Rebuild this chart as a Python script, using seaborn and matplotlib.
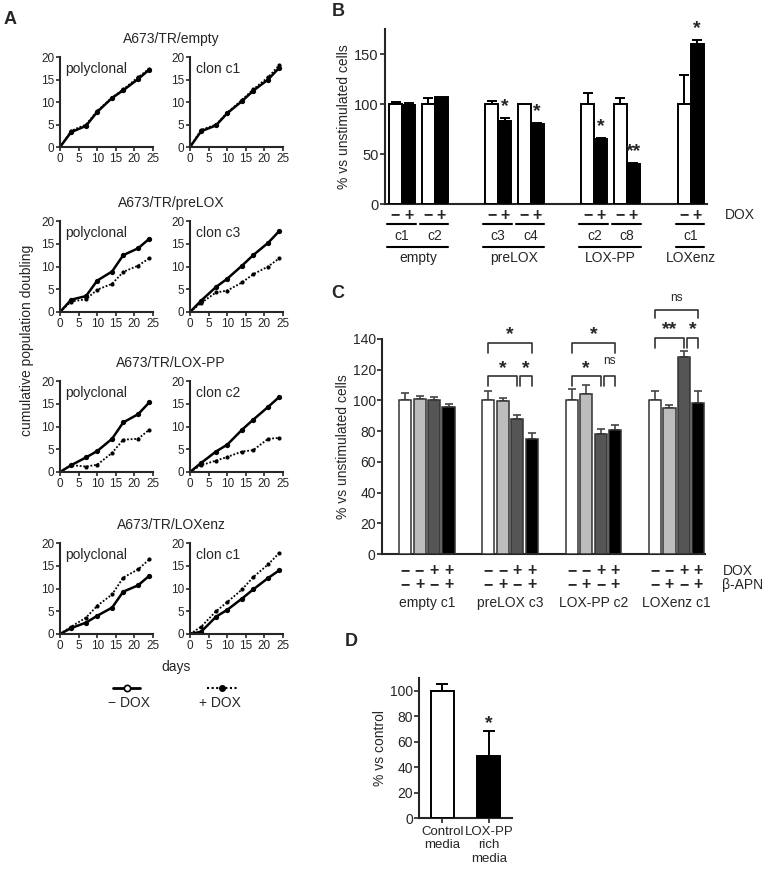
import numpy as np
import pandas as pd
import seaborn as sns
import matplotlib.pyplot as plt
from matplotlib.lines import Line2D

# ---------------- data ----------------
# Panel A: cumulative population doubling over days
days = [0, 3, 7, 10, 14, 17, 21, 24]
a_titles = ["A673/TR/empty", "A673/TR/preLOX", "A673/TR/LOX-PP", "A673/TR/LOXenz"]
a_clones = ["clon c1", "clon c3", "clon c2", "clon c1"]

empty_poly_minus = [0, 3.3, 4.7, 7.8, 10.9, 12.6, 15.1, 17.2]
empty_poly_plus = [0, 3.6, 5.0, 8.0, 11.0, 12.8, 15.5, 17.4]
empty_clon_minus = [0, 3.5, 4.8, 7.5, 10.2, 12.5, 15.0, 17.6]
empty_clon_plus = [0, 3.8, 5.0, 7.6, 10.5, 12.8, 15.5, 18.2]
prelox_poly_minus = [0, 2.7, 3.5, 6.9, 8.9, 12.5, 14.0, 16.1]
prelox_poly_plus = [0, 2.3, 2.8, 4.9, 6.2, 8.8, 10.2, 11.8]
prelox_clon_minus = [0, 2.5, 5.5, 7.3, 10.2, 12.5, 15.2, 17.8]
prelox_clon_plus = [0, 2.0, 4.3, 4.7, 6.5, 8.3, 10.0, 11.8]
loxpp_poly_minus = [0, 1.5, 3.2, 4.6, 7.3, 10.9, 12.7, 15.3]
loxpp_poly_plus = [0, 1.5, 1.2, 1.6, 4.2, 7.1, 7.3, 9.3]
loxpp_clon_minus = [0, 2.0, 4.5, 6.0, 9.3, 11.5, 14.3, 16.5]
loxpp_clon_plus = [0, 1.5, 2.5, 3.3, 4.5, 4.8, 7.3, 7.5]
loxenz_poly_minus = [0, 1.3, 2.5, 4.0, 5.8, 9.3, 10.7, 12.8]
loxenz_poly_plus = [0, 1.6, 3.6, 6.2, 8.7, 12.4, 14.2, 16.4]
loxenz_clon_minus = [0, 0.5, 3.8, 5.3, 7.8, 9.8, 12.3, 14.0]
loxenz_clon_plus = [0, 1.6, 5.0, 7.0, 9.8, 12.5, 15.3, 17.8]

# Panel B: % vs unstimulated cells per clone, -DOX / +DOX
b_groups = ["empty", "preLOX", "LOX-PP", "LOXenz"]
b_clones = [["c1", "c2"], ["c3", "c4"], ["c2", "c8"], ["c1"]]
b_minus = [100, 100, 100, 100, 100, 100, 100]
b_minus_err = [2, 6, 3, 0, 11, 6, 29]
b_plus = [99, 107, 83, 80, 65, 40, 160]
b_plus_err = [2, 0, 3, 1, 1, 1, 4]
b_stars = ["", "", "*", "*", "*", "**", "*"]

# Panel C: DOX / beta-APN combinations
c_groups = ["empty c1", "preLOX c3", "LOX-PP c2", "LOXenz c1"]
c_dox = ["−", "−", "+", "+"]
c_bapn = ["−", "+", "−", "+"]
c_vals = [[100, 101, 100, 95.5], [100, 99.5, 88, 75], [100, 104, 78, 81], [100, 95, 128.5, 98.5]]
c_errs = [[5, 2, 2, 2.5], [6, 2, 2.5, 4], [7.5, 6, 3.5, 3], [6, 2, 3.5, 7.5]]
# (group, bar from, bar to, label)
c_brackets = [(1, 0, 2, "*"), (1, 2, 3, "*"), (1, 0, 3, "*"),
              (2, 0, 2, "*"), (2, 2, 3, "ns"), (2, 0, 3, "*"),
              (3, 0, 2, "**"), (3, 2, 3, "*"), (3, 0, 3, "ns")]

# Panel D: conditioned media
d_labels = ["Control\nmedia", "LOX-PP\nrich\nmedia"]
d_vals = [100, 49]
d_errs = [5, 19]
d_stars = ["", "*"]

# ---------------- style ----------------
sns.set_style("ticks")
plt.rcParams['font.family'] = ['Liberation Sans', 'DejaVu Sans']
plt.rcParams['axes.linewidth'] = 1.5

W, H = 774, 873
fig = plt.figure(figsize=(W / 100, H / 100), dpi=100)


def box(x0, y0, x1, y1):
    return [x0 / W, 1 - y1 / H, (x1 - x0) / W, (y1 - y0) / H]


def fx(px):
    return px / W


def fy(py):
    return 1 - py / H


FS = 10

# ---------------- panel A ----------------
a_curves = [[(empty_poly_minus, empty_poly_plus), (empty_clon_minus, empty_clon_plus)],
            [(prelox_poly_minus, prelox_poly_plus), (prelox_clon_minus, prelox_clon_plus)],
            [(loxpp_poly_minus, loxpp_poly_plus), (loxpp_clon_minus, loxpp_clon_plus)],
            [(loxenz_poly_minus, loxenz_poly_plus), (loxenz_clon_minus, loxenz_clon_plus)]]
a_rows = [(57, 147), (221, 312), (381, 472), (543, 634)]
a_cols = [(60, 153), (190, 283)]

for r, (top, bot) in enumerate(a_rows):
    for c, (left, right) in enumerate(a_cols):
        ax = fig.add_axes(box(left, top, right, bot))
        minus, plus = a_curves[r][c]
        sns.lineplot(x=days, y=plus, color="black", lw=1.3, linestyle=(0, (1, 1)),
                     marker="o", markersize=3, markeredgewidth=0, ax=ax)
        sns.lineplot(x=days, y=minus, color="black", lw=1.8,
                     marker="o", markersize=3.8, markeredgewidth=0, ax=ax)
        ax.set_xlim(0, 25)
        ax.set_ylim(0, 20)
        ax.set_xticks([0, 5, 10, 15, 20, 25])
        ax.set_yticks([0, 5, 10, 15, 20])
        ax.tick_params(labelsize=8.5, length=3, width=1.2, pad=1)
        sns.despine(ax=ax)
        label = "polyclonal" if c == 0 else a_clones[r]
        ax.text(0.06, 0.87, label, transform=ax.transAxes, fontsize=FS, va="center")
    fig.text(fx(171), fy(top - 18), a_titles[r], ha="center", va="center", fontsize=FS)

fig.text(fx(27), fy(340), "cumulative population doubling", rotation=90,
         ha="center", va="center", fontsize=FS)
fig.text(fx(176), fy(667), "days", ha="center", va="center", fontsize=FS)

# legend of panel A
fig.add_artist(Line2D([fx(113), fx(140)], [fy(688)] * 2, color="black", lw=2))
fig.add_artist(Line2D([fx(127)], [fy(688)], marker="o", ms=4.5, mfc="white",
                      mec="black", mew=1.2, ls="none"))
fig.add_artist(Line2D([fx(207), fx(238)], [fy(688)] * 2, color="black", lw=1.5,
                      linestyle=(0, (1, 1.2))))
fig.add_artist(Line2D([fx(222)], [fy(688)], marker="o", ms=4, mfc="black",
                      mec="black", ls="none"))
fig.text(fx(129), fy(703), "− DOX", ha="center", va="center", fontsize=FS)
fig.text(fx(220), fy(703), "+ DOX", ha="center", va="center", fontsize=FS)

# ---------------- panel B ----------------
ax_b = fig.add_axes(box(385, 29, 707, 204))
b_pos = []
b_grp_idx = []
b_clone_lab = []
for g, clones in enumerate(b_clones):
    for k, cl in enumerate(clones):
        b_pos.append(g * 7.4 + k * 2.5)
        b_grp_idx.append(g)
        b_clone_lab.append(cl)
b_pos = np.array(b_pos)

df_b = pd.DataFrame({"pos": np.concatenate([b_pos, b_pos + 1]),
                     "val": b_minus + b_plus,
                     "err": b_minus_err + b_plus_err,
                     "dox": ["minus"] * len(b_pos) + ["plus"] * len(b_pos)})
sns.barplot(data=df_b, x="pos", y="val", hue="dox", palette={"minus": "white", "plus": "black"},
            native_scale=True, width=1, dodge=False, edgecolor="black", linewidth=1.4,
            errorbar=None, legend=False, ax=ax_b, zorder=3)
eb = df_b[df_b["err"] > 0]
ax_b.errorbar(eb["pos"], eb["val"], yerr=[np.zeros(len(eb)), eb["err"]], fmt="none",
              ecolor="black", elinewidth=1.4, capsize=3.5, capthick=1.4, zorder=2)
for p, v, e, s in zip(b_pos + 1, b_plus, b_plus_err, b_stars):
    if s:
        ax_b.text(p, v + e + 3, s, ha="center", va="bottom", fontsize=14, fontweight="bold")
ax_b.set_xlim(-0.81, 23.96)
ax_b.set_ylim(0, 175)
ax_b.set_yticks([0, 50, 100, 150])
ax_b.set_xticks([])
ax_b.set_xlabel("")
ax_b.set_ylabel("% vs unstimulated cells", fontsize=FS, labelpad=2)
ax_b.tick_params(axis="y", labelsize=10.5, length=3.5, width=1.2, pad=1)
sns.despine(ax=ax_b)

tb = ax_b.get_xaxis_transform()
for p, cl in zip(b_pos, b_clone_lab):
    ax_b.text(p, -0.063, "−", transform=tb, ha="center", va="center", fontsize=11.5, fontweight="bold", clip_on=False)
    ax_b.text(p + 1, -0.063, "+", transform=tb, ha="center", va="center", fontsize=11.5, fontweight="bold", clip_on=False)
    ax_b.plot([p - 0.65, p + 1.55], [-0.114] * 2, transform=tb, color="black", lw=1.5, clip_on=False)
    ax_b.text(p + 0.5, -0.183, cl, transform=tb, ha="center", va="center", fontsize=FS, clip_on=False)
for g, name in enumerate(b_groups):
    ps = b_pos[np.array(b_grp_idx) == g]
    ax_b.plot([ps.min() - 0.65, ps.max() + 1.55], [-0.246] * 2, transform=tb, color="black", lw=1.5, clip_on=False)
    ax_b.text((ps.min() + ps.max() + 1) / 2, -0.309, name, transform=tb, ha="center", va="center",
              fontsize=FS, clip_on=False)
ax_b.text(25.3, -0.063, "DOX", transform=tb, ha="left", va="center", fontsize=FS, clip_on=False)

# ---------------- panel C ----------------
ax_c = fig.add_axes(box(382, 339, 705, 554))
c_colors = ["white", "#bdbdbd", "#555555", "black"]
cond_names = ["d-b-", "d-b+", "d+b-", "d+b+"]
rows = []
for g, name in enumerate(c_groups):
    for k in range(4):
        rows.append({"pos": g * 5.75 + k, "val": c_vals[g][k], "err": c_errs[g][k], "cond": cond_names[k]})
df_c = pd.DataFrame(rows)
sns.barplot(data=df_c, x="pos", y="val", hue="cond", palette=dict(zip(cond_names, c_colors)),
            native_scale=True, width=0.83, dodge=False, edgecolor="#333333", linewidth=1.1,
            errorbar=None, legend=False, ax=ax_c, zorder=3)
ax_c.errorbar(df_c["pos"], df_c["val"], yerr=[np.zeros(len(df_c)), df_c["err"]], fmt="none",
              ecolor="#444444", elinewidth=1.2, capsize=3, capthick=1.2, zorder=2)
ax_c.set_xlim(-1.59, 20.7)
ax_c.set_ylim(0, 140)
ax_c.set_yticks(range(0, 141, 20))
ax_c.set_xticks([])
ax_c.set_xlabel("")
ax_c.set_ylabel("% vs unstimulated cells", fontsize=FS, labelpad=2)
ax_c.tick_params(axis="y", labelsize=10, length=3.5, width=1.2, pad=1)
sns.despine(ax=ax_c)

tc = ax_c.get_xaxis_transform()
for g, name in enumerate(c_groups):
    for k in range(4):
        p = g * 5.75 + k
        ax_c.text(p, -0.079, c_dox[k], transform=tc, ha="center", va="center", fontsize=11.5,
                  fontweight="bold", clip_on=False)
        ax_c.text(p, -0.144, c_bapn[k], transform=tc, ha="center", va="center", fontsize=11.5,
                  fontweight="bold", clip_on=False)
    ax_c.text(g * 5.75 + 1.5, -0.228, name, transform=tc, ha="center", va="center", fontsize=FS,
              clip_on=False)
ax_c.text(21.9, -0.079, "DOX", transform=tc, ha="left", va="center", fontsize=FS, clip_on=False)
ax_c.text(21.9, -0.144, "β-APN", transform=tc, ha="left", va="center", fontsize=FS, clip_on=False)

# bracket heights (top, hook depth, label height)
c_bracket_y = [(116, 6.5, 124), (116, 6.5, 124), (137.6, 6.5, 146),
               (116, 6.5, 124), (116, 6.5, 126), (137.6, 6.5, 146),
               (140.6, 6.5, 149), (140.6, 6.5, 149), (159, 5.5, 167)]
for (g, i, j, lab), (yt, hk, yl) in zip(c_brackets, c_bracket_y):
    x1 = g * 5.75 + i + (0.2 if i > 0 else 0)
    x2 = g * 5.75 + j
    ax_c.plot([x1, x1, x2, x2], [yt - hk, yt, yt, yt - hk], color="#333333", lw=1.2,
              solid_joinstyle="round", clip_on=False)
    if lab == "ns":
        ax_c.text((x1 + x2) / 2, yl, lab, ha="center", va="center", fontsize=8.5, clip_on=False)
    else:
        ax_c.text((x1 + x2) / 2, yl - 3, lab, ha="center", va="center", fontsize=14,
                  fontweight="bold", clip_on=False)

# ---------------- panel D ----------------
ax_d = fig.add_axes(box(419, 678, 512, 818))
sns.barplot(x=d_labels, y=d_vals, hue=d_labels, palette=["white", "black"], width=0.49,
            edgecolor="black", linewidth=1.4, legend=False, ax=ax_d, zorder=3)
ax_d.errorbar([0, 1], d_vals, yerr=[[0, 0], d_errs], fmt="none", ecolor="black",
              elinewidth=1.4, capsize=4, capthick=1.4, zorder=2)
for k, (v, e, s) in enumerate(zip(d_vals, d_errs, d_stars)):
    if s:
        ax_d.text(k, v + e + 6, s, ha="center", va="center", fontsize=14, fontweight="bold")
ax_d.set_xlim(-0.5, 1.5)
ax_d.set_ylim(0, 110)
ax_d.set_yticks(range(0, 101, 20))
ax_d.set_ylabel("% vs control", fontsize=FS, labelpad=2)
ax_d.tick_params(axis="y", labelsize=10, length=3.5, width=1.2, pad=1)
ax_d.tick_params(axis="x", labelsize=9.5, length=3.5, width=1.2, pad=2)
sns.despine(ax=ax_d)

# panel letters
for lab, (px, py) in zip("ABCD", [(10, 20), (338, 12), (338, 294), (351, 642)]):
    fig.text(fx(px), fy(py), lab, ha="center", va="center", fontsize=13, fontweight="bold")

plt.savefig("out.png", dpi=100)
